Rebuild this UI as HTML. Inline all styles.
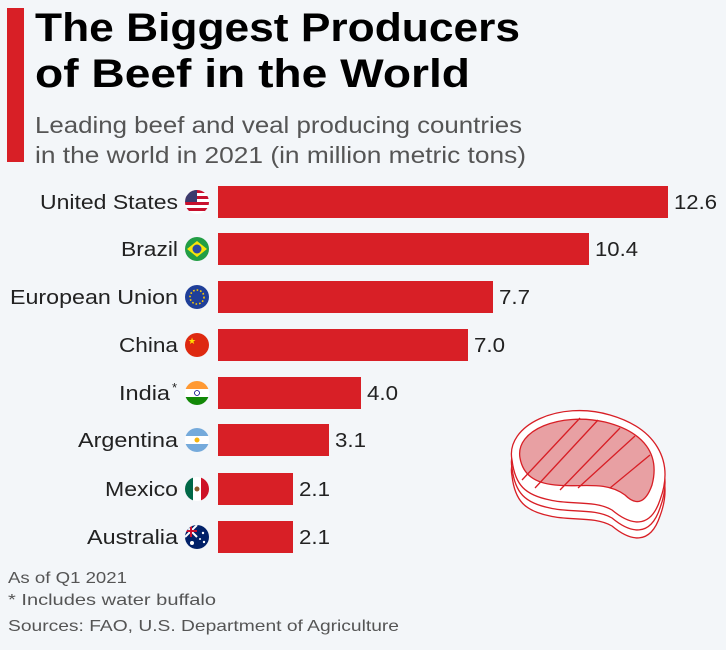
<!DOCTYPE html>
<html><head><meta charset="utf-8"><style>
html,body{margin:0;padding:0;background:#f3f6f9;}
svg{display:block;font-family:"Liberation Sans",sans-serif;}
</style></head><body>
<svg width="726" height="650" viewBox="0 0 726 650">
<rect width="726" height="650" fill="#f3f6f9"/>
<rect x="7" y="8" width="17" height="154" fill="#d81f26"/>
<text x="35" y="41" font-size="40" font-weight="bold" fill="#000" textLength="485" lengthAdjust="spacingAndGlyphs">The Biggest Producers</text>
<text x="35" y="87" font-size="40" font-weight="bold" fill="#000" textLength="435" lengthAdjust="spacingAndGlyphs">of Beef in the World</text>
<text x="35" y="133" font-size="23" fill="#555" textLength="487" lengthAdjust="spacingAndGlyphs">Leading beef and veal producing countries</text>
<text x="35" y="163" font-size="23" fill="#555" textLength="491" lengthAdjust="spacingAndGlyphs">in the world in 2021 (in million metric tons)</text>
<g font-size="20" fill="#222">
<text x="40" y="209" textLength="138" lengthAdjust="spacingAndGlyphs">United States</text>
<text x="121" y="256" textLength="57" lengthAdjust="spacingAndGlyphs">Brazil</text>
<text x="10" y="304" textLength="168" lengthAdjust="spacingAndGlyphs">European Union</text>
<text x="119" y="352" textLength="59" lengthAdjust="spacingAndGlyphs">China</text>
<text x="119" y="400" textLength="51" lengthAdjust="spacingAndGlyphs">India</text><text x="172" y="392" font-size="13">*</text>
<text x="78" y="447" textLength="100" lengthAdjust="spacingAndGlyphs">Argentina</text>
<text x="105" y="496" textLength="73" lengthAdjust="spacingAndGlyphs">Mexico</text>
<text x="87" y="544" textLength="91" lengthAdjust="spacingAndGlyphs">Australia</text>
<g fill="#d81f26">
<rect x="218" y="186" width="450" height="32"/>
<rect x="218" y="233" width="371" height="32"/>
<rect x="218" y="281" width="275" height="32"/>
<rect x="218" y="329" width="250" height="32"/>
<rect x="218" y="377" width="143" height="32"/>
<rect x="218" y="424" width="111" height="32"/>
<rect x="218" y="473" width="75" height="32"/>
<rect x="218" y="521" width="75" height="32"/>
</g>
<text x="674" y="209" textLength="43" lengthAdjust="spacingAndGlyphs">12.6</text>
<text x="595" y="256" textLength="43" lengthAdjust="spacingAndGlyphs">10.4</text>
<text x="499" y="304" textLength="31" lengthAdjust="spacingAndGlyphs">7.7</text>
<text x="474" y="352" textLength="31" lengthAdjust="spacingAndGlyphs">7.0</text>
<text x="367" y="400" textLength="31" lengthAdjust="spacingAndGlyphs">4.0</text>
<text x="335" y="447" textLength="31" lengthAdjust="spacingAndGlyphs">3.1</text>
<text x="299" y="496" textLength="31" lengthAdjust="spacingAndGlyphs">2.1</text>
<text x="299" y="544" textLength="31" lengthAdjust="spacingAndGlyphs">2.1</text>
</g>
<defs>
<clipPath id="c"><circle r="12"/></clipPath>
</defs>
<g transform="translate(197,202)" clip-path="url(#c)"><rect x="-12" y="-12" width="24" height="24" fill="#fff"/><g fill="#c8102e"><rect x="-12" y="-12" width="24" height="3"/><rect x="-12" y="-6" width="24" height="3"/><rect x="-12" y="0" width="24" height="3"/><rect x="-12" y="6" width="24" height="3"/></g><rect x="-12" y="-12" width="12" height="12" fill="#3c3b6e"/></g>
<g transform="translate(197,249)" clip-path="url(#c)"><rect x="-12" y="-12" width="24" height="24" fill="#229e45"/><polygon points="-10,0 0,-8 10,0 0,8" fill="#f8e509"/><circle r="4.5" fill="#2b49a3"/></g>
<g transform="translate(197,297)" clip-path="url(#c)"><rect x="-12" y="-12" width="24" height="24" fill="#1f3f99"/><circle r="7" fill="none" stroke="#fc0" stroke-width="1.6" stroke-dasharray="1.6 2"/></g>
<g transform="translate(197,345)" clip-path="url(#c)"><rect x="-12" y="-12" width="24" height="24" fill="#de2910"/><text x="-9" y="-1" font-size="9" fill="#ffde00">★</text></g>
<g transform="translate(197,393)" clip-path="url(#c)"><rect x="-12" y="-12" width="24" height="8" fill="#f93"/><rect x="-12" y="-4" width="24" height="8" fill="#fff"/><rect x="-12" y="4" width="24" height="8" fill="#128807"/><circle r="2.5" fill="none" stroke="#008" stroke-width="0.8"/></g>
<g transform="translate(197,440)" clip-path="url(#c)"><rect x="-12" y="-12" width="24" height="24" fill="#fff"/><rect x="-12" y="-12" width="24" height="8" fill="#75aadb"/><rect x="-12" y="4" width="24" height="8" fill="#75aadb"/><circle r="2.5" fill="#f6b40e"/></g>
<g transform="translate(197,489)" clip-path="url(#c)"><rect x="-12" y="-12" width="8" height="24" fill="#006847"/><rect x="-4" y="-12" width="8" height="24" fill="#fff"/><rect x="4" y="-12" width="8" height="24" fill="#ce1126"/><circle r="2.5" fill="#8b5a2b"/></g>
<g transform="translate(197,537)" clip-path="url(#c)"><rect x="-12" y="-12" width="24" height="24" fill="#012169"/><path d="M-12,-12 L0,0 M0,-12 L-12,0" stroke="#fff" stroke-width="2"/><path d="M-6,-12 V0 M-12,-6 H0" stroke="#c8102e" stroke-width="2"/><circle cx="-5" cy="6" r="2" fill="#fff"/><circle cx="6" cy="-4" r="1.2" fill="#fff"/><circle cx="7" cy="5" r="1.2" fill="#fff"/><circle cx="3" cy="2" r="1" fill="#fff"/></g>
<g stroke="#d81f26" stroke-width="1.3" fill="#fff">
<path d="M512,460 C505,425 560,400 610,415 C655,428 675,460 660,500 C650,530 630,525 612,510 C595,500 570,505 550,500 C525,495 515,485 512,460Z" transform="translate(0,16)"/>
<path d="M512,460 C505,425 560,400 610,415 C655,428 675,460 660,500 C650,530 630,525 612,510 C595,500 570,505 550,500 C525,495 515,485 512,460Z" transform="translate(0,8)"/>
<path d="M512,460 C505,425 560,400 610,415 C655,428 675,460 660,500 C650,530 630,525 612,510 C595,500 570,505 550,500 C525,495 515,485 512,460Z"/>
<path d="M520,458 C515,430 560,412 605,422 C645,432 660,455 652,485 C645,505 635,505 625,495 C605,480 580,488 555,485 C535,483 523,475 520,458Z" fill="#e8a0a3"/>
<path d="M522,480 L580,418 M535,488 L598,420 M560,490 L620,428 M578,488 L635,436 M610,488 L650,455" fill="none"/>
</g>
<g font-size="16" fill="#555">
<text x="8" y="583" textLength="119" lengthAdjust="spacingAndGlyphs">As of Q1 2021</text>
<text x="8" y="605" textLength="208" lengthAdjust="spacingAndGlyphs">* Includes water buffalo</text>
<text x="8" y="631" textLength="391" lengthAdjust="spacingAndGlyphs">Sources: FAO, U.S. Department of Agriculture</text>
</g>
</svg>
</body></html>
